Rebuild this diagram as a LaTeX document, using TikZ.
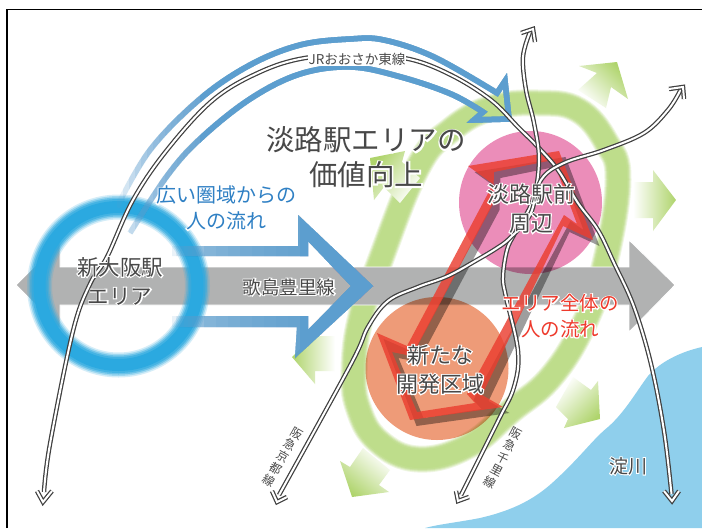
\documentclass[tikz,border=0pt]{standalone}
\usepackage{fontspec}
\newfontfamily\jp{Noto Sans CJK JP}
\newfontfamily\jph[FakeBold=10]{Noto Sans CJK JP}
\newcommand\hl[1]{\makebox[0pt][l]{\jph\color{white}#1}#1}
\definecolor{riverc}{HTML}{8FCFEC}
\definecolor{barc}{HTML}{B1B2B2}
\definecolor{ringc}{HTML}{2BA9E0}
\definecolor{bandc}{HTML}{BEDD8B}
\definecolor{arrc}{HTML}{AFD46C}
\definecolor{flowc}{HTML}{5C9ECF}
\definecolor{pinkc}{HTML}{EB8DB9}
\definecolor{orangec}{HTML}{EE9B78}
\definecolor{redc}{HTML}{EB3E30}
\definecolor{railc}{HTML}{404040}
\definecolor{inkc}{HTML}{484848}
\definecolor{bluetxt}{HTML}{2F80C4}
\definecolor{redtxt}{HTML}{EE3A2C}
\tikzset{
  rail/.style={draw=railc,line width=1.25pt,double=white,double distance=2pt,line join=miter},
  lbl/.style={inner sep=0pt,align=center,text=inkc},
  flowstroke/.style={draw=flowc,line width=5.5pt,line join=miter,miter limit=10},
}
\newcommand\flatflow{(170,246) -- (298,246) -- (298,215) -- (373,286) -- (295,358) -- (297,327) -- (170,327) -- (170,316) -- (308,316) -- (308,330) -- (351,286) -- (308,241) -- (308,256) -- (170,256) -- cycle}
\newcommand\arcflow{plot[smooth,tension=.6] coordinates {(117,207)(150,150)(200,99)(250,65)(300,45)(350,39)(384,40)(434,57)(497,93)}
  -- (505,81) -- (509,119) -- (474,120) -- (483,112)
  -- plot[smooth,tension=.6] coordinates {(483,112)(451,94)(401,77)(351,67)(300,74)(250,99)(200,139)(167,176)(130,233)}}
\newcommand\redshape{(468,166) -- (559,151) -- (593,240) -- (563,226) -- (482,395) -- (503,407) -- (410,420) -- (377,333) -- (407,346) -- (493,184) -- cycle
  (494,172) -- (553,160) -- (577,224) -- (564,215) -- (467,394) -- (475,403) -- (417,412) -- (392,352) -- (412,356) -- (493,204) -- cycle}
\begin{document}
\begin{tikzpicture}[x=1pt,y=-1pt]
\useasboundingbox (0,0) rectangle (702,528);
\fill[white] (0,0) rectangle (702,528);
% river
\fill[riverc] (702,347) .. controls (680,352) and (660,362) .. (648,376) .. controls (636,392) and (625,412) .. (608,427)
  .. controls (592,440) and (580,458) .. (551,484) .. controls (535,498) and (515,510) .. (480,518) .. controls (460,522) and (440,524) .. (425,528) -- (702,528) -- cycle;
% green band
\foreach \w/\o in {27/.25,25/.35,23/.5,21/.7,18/1}{
  \draw[bandc,line width=\w pt,opacity=\o] plot[smooth cycle,tension=.7] coordinates {(538,103)(578,110)(606,142)(618,180)(605,263)(584,324)(551,377)(511,411)(468,446)(418,459)(378,441)(358,407)(354,370)(360,320)(379,264)(418,167)(451,130)(491,108)};
}
% green arrows
\shade[top color=arrc,bottom color=white,shading angle=-45] (617,62) -- (628,99) -- (611,87) -- (606,108) -- (578,90) -- (597,73) -- (579,66) -- cycle;
\shade[left color=white,right color=arrc] (633,182) -- (653,182) -- (653,170) -- (676,200) -- (653,231) -- (653,218) -- (633,218) -- cycle;
\shade[top color=arrc,bottom color=white,shading angle=-135] (600,419) -- (598,381) -- (591,390) -- (573,377) -- (556,407) -- (568,419) -- (564,428) -- cycle;
\shade[top color=arrc,bottom color=white,shading angle=140] (352,497) -- (340,461) -- (350,467) -- (363,448) -- (390,470) -- (379,485) -- (389,492) -- cycle;
\shade[left color=arrc,right color=white] (292,357) -- (315,334) -- (315,336) -- (335,336) -- (335,371) -- (315,371) -- (315,384) -- cycle;
\shade[top color=arrc,bottom color=white,shading angle=50] (370,158) -- (405,151) -- (402,162) -- (420,178) -- (400,203) -- (384,187) -- (374,200) -- cycle;
% grey double arrow
\fill[barc,draw=white,line width=.8pt] (16,285) -- (60,241) -- (60,267) -- (629,267) -- (629,240) -- (675,285) -- (629,332) -- (629,305) -- (60,305) -- (60,329) -- cycle;
% blue ring
\foreach \w/\o in {25/.2,22/.3,19/.45,16/.6,12/1}{
  \draw[ringc,line width=\w pt,opacity=\o] (118.5,286) circle (79pt);
}
% circles
\begin{scope}[blend mode=multiply]
  \fill[pinkc] (530.5,202.5) circle (71.5pt);
  \fill[orangec] (437,368.5) circle (71.5pt);
\end{scope}
% red arrow: shadow then body
\fill[black,opacity=.38,even odd rule,xshift=6.5pt,yshift=-6pt] \redshape;
\fill[redc,opacity=.82,even odd rule] \redshape;
% blue flow arrows, built up in layers from the faded end
\foreach \xx in {172,176,...,204}{
  \begin{scope}
    \clip (\xx,0) rectangle (702,528);
    \fill[flowc,opacity=.125] \flatflow;
  \end{scope}
}
\foreach \xx in {204,216,...,300}{
  \begin{scope}
    \clip (\xx,0) rectangle (702,528);
    \fill[flowc,opacity=.15] \flatflow;
  \end{scope}
}
\begin{scope}
  \clip (300,0) rectangle (702,528);
  \fill[flowc] \flatflow;
\end{scope}
\foreach \xx in {117,123,...,200}{
  \begin{scope}
    \clip (\xx,0) rectangle (702,528);
    \draw[flowstroke,opacity=.14] \arcflow;
  \end{scope}
}
\begin{scope}
  \clip (200,0) rectangle (702,528);
  \draw[flowstroke] \arcflow;
\end{scope}
% rails
\draw[rail] plot[smooth,tension=.6] coordinates {(44,492)(50,444)(73,331)(90,284)(107,257)(133,200)(167,150)(213,100)(260,72)(305,58)(360,55)(409,59)(451,75)(491,100)(518,127)(538,147)(558,170)(578,203)(598,230)(614,263)(634,307)(651,364)(664,431)(671.5,494)};
\draw[rail] (37,491) -- (43,502) -- (52,491);
\draw[rail] (664,491) -- (672,501) -- (679,491);
\draw[rail] plot[smooth,tension=.6] coordinates {(461,495)(498,421)(514,387)(518,351)(506,297)(503,277)(507,250)(515,233)(533,200)(539,160)(534,123)(526,90)(523,57)(530,32)};
\draw[rail] (521,33) -- (533,29) -- (535,42);
\draw[rail] (456,491) -- (458,501) -- (469,497);
\draw[rail] plot[smooth,tension=.6] coordinates {(279,495)(351,364)(368,327)(388,301)(418,287)(448,276)(477,260)(497,248)(510,238)(530,215)(541,180)(564,163)(604,150)(644,133)(668,110)(680,91)};
\draw[rail] (669,89) -- (683,87) -- (684,99);
\draw[rail] (272,491) -- (277,502) -- (287,497);
% labels
\node[lbl,fill=white,inner xsep=1pt,inner ysep=1pt,font=\fontsize{13.5}{15}\selectfont\jp] (jr) at (357,59) {JRおおさか東線};
\node[lbl,font=\fontsize{28.5}{35}\selectfont\jp] (title) at (366,157.5) {\hl{淡路駅エリアの}\\\hl{価値向上}};
\node[lbl,text=bluetxt,font=\fontsize{20}{26}\selectfont\jp] (wide) at (226,208) {\hl{広い圏域からの}\\\hl{人の流れ}};
\node[lbl,font=\fontsize{21.5}{29}\selectfont\jp] (shin) at (120,281) {\hl{新大阪駅}\\\hl{エリア}};
\node[lbl,font=\fontsize{18.5}{20}\selectfont\jp] (uta) at (289,287) {\hl{歌島豊里線}};
\node[lbl,font=\fontsize{22}{29}\selectfont\jp] (awaji) at (531,208.5) {\hl{淡路駅前}\\\hl{周辺}};
\node[lbl,font=\fontsize{22}{29}\selectfont\jp] (shintana) at (440,369.5) {\hl{新たな}\\\hl{開発区域}};
\node[lbl,text=redtxt,font=\fontsize{19.5}{26}\selectfont\jp] (area) at (560,316) {\hl{エリア全体の}\\\hl{人の流れ}};
\node[lbl,font=\fontsize{19}{22}\selectfont\jp] (yodo) at (628,466) {\hl{淀川}};
\node[lbl,rotate=-30,font=\fontsize{12}{13.7}\selectfont\jp] (kyoto) at (283,457) {阪\\急\\京\\都\\線};
\node[lbl,rotate=-28,font=\fontsize{12}{13.7}\selectfont\jp] (senri) at (503,458) {阪\\急\\千\\里\\線};
% frame
\draw[black,line width=1.6pt] (7,528) -- (7,9.5) -- (702,9.5);
\end{tikzpicture}
\end{document}
